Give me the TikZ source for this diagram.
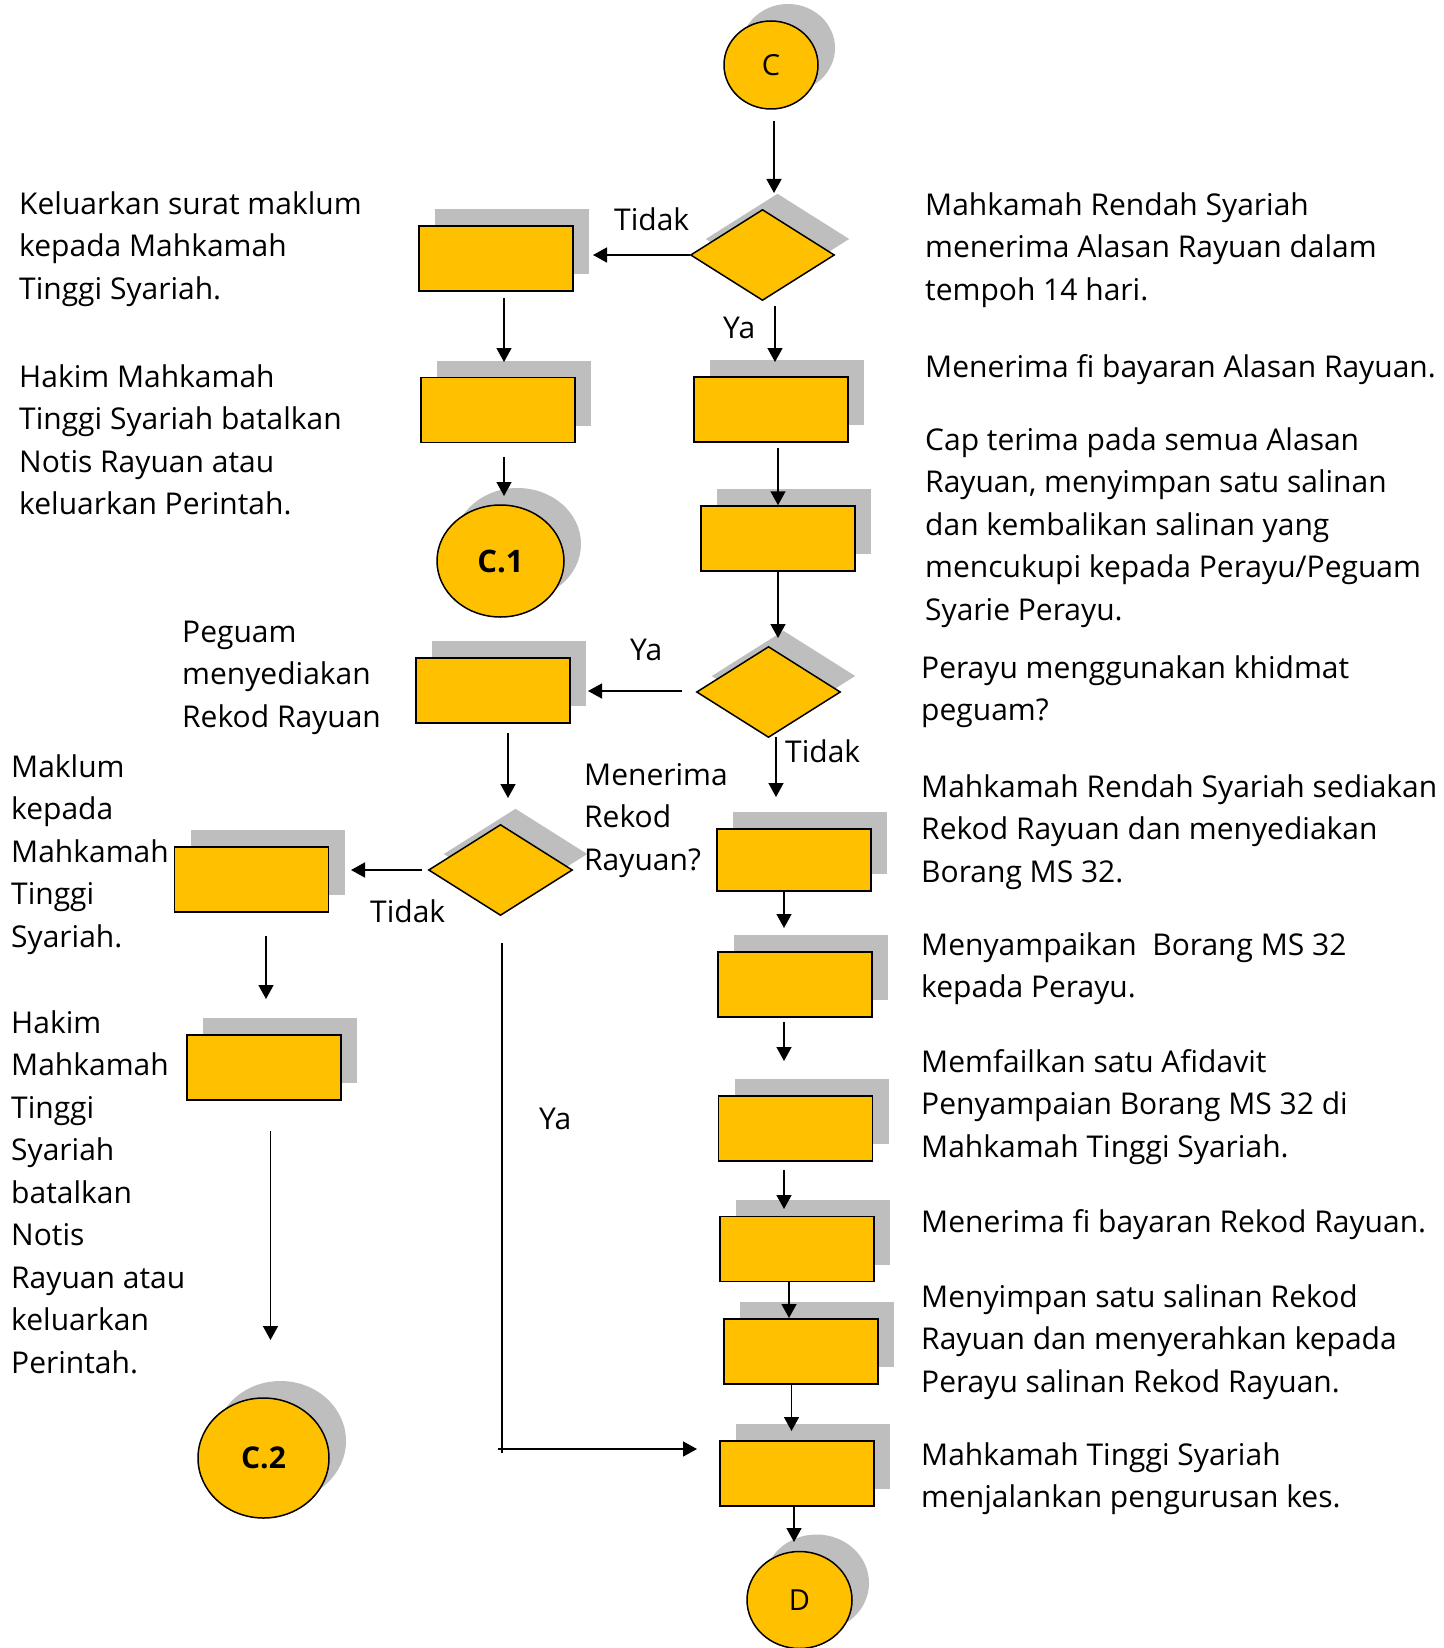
\documentclass[tikz,border=0pt]{standalone}
\usepackage{fontspec}
\setmainfont{Open Sans}
\usetikzlibrary{shapes.geometric,shadows,arrows.meta}
\definecolor{gold}{HTML}{FFC000}
\definecolor{shade}{HTML}{BEBEBE}
\tikzset{
  boxshadow/.style={general shadow={fill=shade, shadow xshift=16pt, shadow yshift=17pt}},
  box/.style={rectangle, draw=black, line width=1.5pt, fill=gold, minimum width=154pt, minimum height=65pt, inner sep=0pt, boxshadow},
  dec/.style={diamond, draw=black, line width=1.5pt, fill=gold, inner sep=0pt, minimum width=144pt, minimum height=91pt, general shadow={fill=shade, shadow xshift=15pt, shadow yshift=16pt}},
  term/.style={ellipse, draw=black, line width=1.5pt, fill=gold, inner sep=0pt, font=\fontsize{29}{30}\selectfont, general shadow={fill=shade, shadow xshift=17pt, shadow yshift=17pt}},
  arr/.style={line width=1.5pt, -{Triangle[length=14pt,width=15pt]}},
  plain/.style={line width=1.5pt},
  % anchor is the baseline of the LAST line of the text
  txt/.style={anchor=base west, align=left, inner sep=0pt, font=\fontsize{30}{42.5}\selectfont},
}
\begin{document}
\begin{tikzpicture}[x=1pt,y=-1pt]
\useasboundingbox (0,0) rectangle (1443,1648);
% terminals
\node[term, minimum width=94pt, minimum height=88pt] (C) at (771,65) {C};
\node[term, minimum width=127pt, minimum height=112pt, font=\fontsize{31}{32}\selectfont\bfseries] (C1) at (500.5,561) {C.1};
\node[term, minimum width=131pt, minimum height=120pt, font=\fontsize{30}{32}\selectfont\bfseries] (C2) at (263.5,1458) {C.2};
\node[term, minimum width=105pt, minimum height=97pt] (D) at (799.5,1600) {D};
% decisions
\node[dec] (D1) at (762.5,255) {};
\node[dec] (D2) at (768.5,692) {};
\node[dec] (D3) at (500.5,870) {};
% process boxes
\node[box] (R1) at (496,258.5) {};
\node[box] (R2) at (498,410) {};
\node[box] (R3) at (771,409.5) {};
\node[box] (R4) at (778,538.5) {};
\node[box] (R5) at (493,690.5) {};
\node[box, minimum height=62pt] (R6) at (794,860) {};
\node[box] (R7) at (795,984.5) {};
\node[box] (R8) at (251.5,879.5) {};
\node[box] (R9) at (264,1067.5) {};
\node[box] (R10) at (795.5,1128.5) {};
\node[box] (R11) at (797,1249) {};
\node[box] (R12) at (801,1351.5) {};
\node[box] (R13) at (797,1473.5) {};
% connector end points
\coordinate (a1s) at (774,121);   \coordinate (a1e) at (774,193);
\coordinate (a2e) at (593,255);
\coordinate (a3s) at (775,306);   \coordinate (a3e) at (775,362);
\coordinate (a4s) at (504,298);   \coordinate (a4e) at (504,362);
\coordinate (a5s) at (504,457);   \coordinate (a5e) at (504,496);
\coordinate (a6s) at (778,448);
\coordinate (a7e) at (778,638);
\coordinate (a8s) at (682,691);   \coordinate (a8e) at (588,691);
\coordinate (a9s) at (776,737);   \coordinate (a9e) at (776,797);
\coordinate (a10s) at (508,733);  \coordinate (a10e) at (508,798);
\coordinate (a11s) at (422,870);  \coordinate (a11e) at (351,870);
\coordinate (a12s) at (266,936);  \coordinate (a12e) at (266,999);
\coordinate (a13s) at (270.5,1131); \coordinate (a13e) at (270.5,1340);
\coordinate (a14s) at (502,943);  \coordinate (a14c) at (502,1453);
\coordinate (a14h) at (498,1449); \coordinate (a14e) at (697,1449);
\coordinate (a15s) at (784,891);  \coordinate (a15e) at (784,928);
\coordinate (a16s) at (784,1022); \coordinate (a16e) at (784,1061);
\coordinate (a17s) at (784,1170); \coordinate (a17e) at (784,1209);
\coordinate (a18s) at (789,1282); \coordinate (a18e) at (789,1318);
\coordinate (a19s) at (791.5,1384); \coordinate (a19e) at (791.5,1431);
\coordinate (a20s) at (794,1506); \coordinate (a20e) at (794,1542);
% connectors
\draw[arr] (a1s) -- (a1e);
\draw[arr] (D1.west) -- (a2e);
\draw[arr] (a3s) -- (a3e);
\draw[arr] (a4s) -- (a4e);
\draw[arr] (a5s) -- (a5e);
\draw[arr] (a6s) -- (R4.north);
\draw[arr] (R4.south) -- (a7e);
\draw[arr] (a8s) -- (a8e);
\draw[arr] (a9s) -- (a9e);
\draw[arr] (a10s) -- (a10e);
\draw[arr] (a11s) -- (a11e);
\draw[arr] (a12s) -- (a12e);
\draw[arr] (a13s) -- (a13e);
\draw[plain] (a14s) -- (a14c);
\draw[arr] (a14h) -- (a14e);
\draw[arr] (a15s) -- (a15e);
\draw[arr] (a16s) -- (a16e);
\draw[arr] (a17s) -- (a17e);
\draw[arr] (a18s) -- (a18e);
\draw[arr] (a19s) -- (a19e);
\draw[arr] (a20s) -- (a20e);
% branch labels
\node[txt] (l1) at (614,230) {Tidak};
\node[txt] (l2) at (723,338) {Ya};
\node[txt] (l3) at (630,660) {Ya};
\node[txt] (l4) at (785,762) {Tidak};
\node[txt] (l5) at (370,922) {Tidak};
\node[txt] (l6) at (539,1129) {Ya};
\node[txt] (q3) at (584,870) {Menerima\\Rekod\\Rayuan?};
% right descriptions
\node[txt] (t1) at (925,300) {Mahkamah Rendah Syariah\\menerima Alasan Rayuan dalam\\tempoh 14 hari.};
\node[txt] (t2) at (925,377) {Menerima fi bayaran Alasan Rayuan.};
\node[txt] (t3) at (925,620) {Cap terima pada semua Alasan\\Rayuan, menyimpan satu salinan\\dan kembalikan salinan yang\\mencukupi kepada Perayu/Peguam\\Syarie Perayu.};
\node[txt] (t4) at (921,720.5) {Perayu menggunakan khidmat\\peguam?};
\node[txt] (t5) at (921,882) {Mahkamah Rendah Syariah sediakan\\Rekod Rayuan dan menyediakan\\Borang MS 32.};
\node[txt] (t6) at (921,997.5) {Menyampaikan\ \ Borang MS 32\\kepada Perayu.};
\node[txt] (t7) at (921,1157) {Memfailkan satu Afidavit\\Penyampaian Borang MS 32 di\\Mahkamah Tinggi Syariah.};
\node[txt] (t8) at (921,1232) {Menerima fi bayaran Rekod Rayuan.};
\node[txt] (t9) at (921,1392) {Menyimpan satu salinan Rekod\\Rayuan dan menyerahkan kepada\\Perayu salinan Rekod Rayuan.};
\node[txt] (t10) at (921,1507.5) {Mahkamah Tinggi Syariah\\menjalankan pengurusan kes.};
% left descriptions
\node[txt] (s1) at (19,299) {Keluarkan surat maklum\\kepada Mahkamah\\Tinggi Syariah.};
\node[txt] (s2) at (19,514.5) {Hakim Mahkamah\\Tinggi Syariah batalkan\\Notis Rayuan atau\\keluarkan Perintah.};
\node[txt] (s3) at (182,727) {Peguam\\menyediakan\\Rekod Rayuan};
\node[txt] (s4) at (11,947) {Maklum\\kepada\\Mahkamah\\Tinggi\\Syariah.};
\node[txt] (s5) at (11,1373) {Hakim\\Mahkamah\\Tinggi\\Syariah\\batalkan\\Notis\\Rayuan atau\\keluarkan\\Perintah.};
\end{tikzpicture}
\end{document}
